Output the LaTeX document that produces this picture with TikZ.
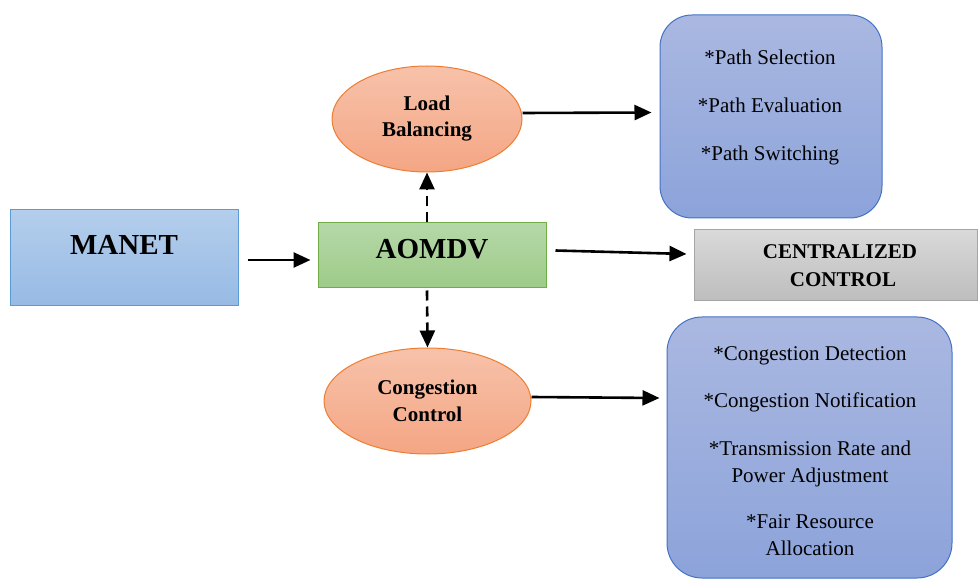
\documentclass[tikz,border=0pt]{standalone}
\usepackage{fontspec}
\setmainfont{Liberation Serif}
\usetikzlibrary{arrows.meta,shapes.geometric,calc}
\definecolor{bluetop}{HTML}{B4CEEC}
\definecolor{bluebot}{HTML}{97BAE4}
\definecolor{blueline}{HTML}{5B9BD5}
\definecolor{greentop}{HTML}{B6D8A8}
\definecolor{greenbot}{HTML}{9DCB88}
\definecolor{greenline}{HTML}{70AD47}
\definecolor{orangetop}{HTML}{F7C2AA}
\definecolor{orangebot}{HTML}{F4A684}
\definecolor{orangeline}{HTML}{ED7D31}
\definecolor{pbtop}{HTML}{AAB8E1}
\definecolor{pbbot}{HTML}{8CA3DA}
\definecolor{pbline}{HTML}{4472C4}
\definecolor{graytop}{HTML}{D9D9D9}
\definecolor{graybot}{HTML}{BDBDBD}
\definecolor{grayline}{HTML}{A5A5A5}
\begin{document}
\begin{tikzpicture}[x=1pt,y=-1pt,
  boxbase/.style={inner sep=0pt, line width=1pt},
  manetbox/.style={boxbase, draw=blueline, top color=bluetop, bottom color=bluebot},
  aomdvbox/.style={boxbase, draw=greenline, top color=greentop, bottom color=greenbot},
  ovalbox/.style={boxbase, ellipse, draw=orangeline, top color=orangetop, bottom color=orangebot,
     align=center, font=\bfseries\fontsize{21}{26}\selectfont},
  listbox/.style={boxbase, draw=pbline, top color=pbtop, bottom color=pbbot},
  graybox/.style={boxbase, draw=grayline, top color=graytop, bottom color=graybot},
  bigtext/.style={inner sep=0pt, anchor=base, font=\bfseries\fontsize{29}{34}\selectfont},
  boldtext/.style={inner sep=0pt, anchor=base, font=\bfseries\fontsize{21}{26}\selectfont},
  itemtext/.style={inner sep=0pt, anchor=base, font=\fontsize{21}{26}\selectfont},
  arr/.style={-{Triangle[length=17pt,width=15pt]}, line width=2.6pt},
  darr/.style={arr, dash pattern=on 10pt off 6pt}
]
\useasboundingbox (0,0) rectangle (978,580);

% shapes
\node[manetbox, minimum width=228pt, minimum height=96pt] (manet) at (124,258) {};
\node[bigtext] (manett) at (124,255) {MANET};

\node[aomdvbox, minimum width=228pt, minimum height=65pt] (aomdv) at (432,255.5) {};
\node[bigtext] (aomdvt) at (432,259) {AOMDV};

\node[ovalbox, minimum width=190pt, minimum height=106pt] (lb) at (427,119) {Load\\Balancing};
\node[ovalbox, minimum width=207pt, minimum height=106pt, font=\bfseries\fontsize{21}{27}\selectfont] (cc) at (427.5,401) {Congestion\\Control};

\node[graybox, minimum width=283pt, minimum height=71pt] (cbox) at (835.5,265.5) {};
\node[boldtext] (c1) at (840,259) {CENTRALIZED};
\node[boldtext] (c2) at (843,287) {CONTROL};

\node[listbox, rounded corners=32pt, minimum width=222pt, minimum height=203pt] (pbox) at (771,116.5) {};
\node[itemtext] (p1) at (770,65) {*Path Selection};
\node[itemtext] (p2) at (770,113) {*Path Evaluation};
\node[itemtext] (p3) at (770,161) {*Path Switching};

\node[listbox, rounded corners=35pt, minimum width=285pt, minimum height=261pt] (gbox) at (809.5,447.5) {};
\node[itemtext] (g1) at (810,360) {*Congestion Detection};
\node[itemtext] (g2) at (810,407) {*Congestion Notification};
\node[itemtext] (g3) at (810,455) {*Transmission Rate and};
\node[itemtext] (g4) at (810,482) {Power Adjustment};
\node[itemtext] (g5) at (810,528) {*Fair Resource};
\node[itemtext] (g6) at (810,555) {Allocation};

% connectors
\draw[arr] ($(manet.east)+(9,2)$) -- ($(aomdv.west)+(-7,4.5)$);
\draw[darr] ($(aomdv.north)+(-5,0)$) -- (lb.south);
\draw[darr] ($(aomdv.south)+(-5,2)$) -- (cc.north);
\draw[arr] ($(lb.east)+(0,-6)$) -- ($(pbox.west)+(-8,-4)$);
\draw[arr] ($(aomdv.east)+(9,-5)$) -- ($(cbox.west)+(-7,-11.5)$);
\draw[arr] ($(cc.east)+(0,-4)$) -- ($(gbox.west)+(-7,-49.5)$);
\end{tikzpicture}
\end{document}
